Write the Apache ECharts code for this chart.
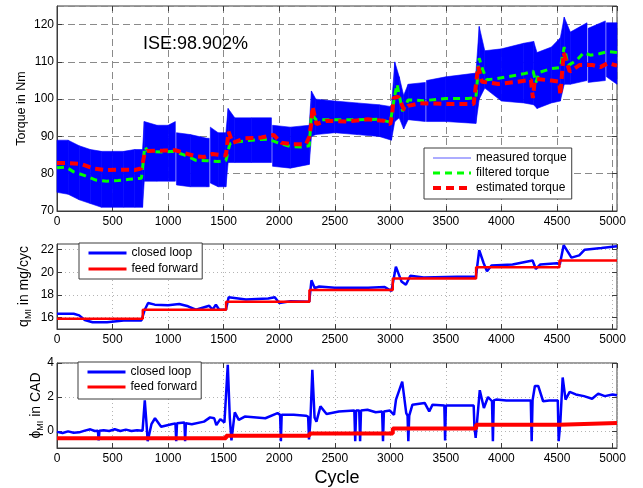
<!DOCTYPE html>
<html>
<head>
<meta charset="utf-8">
<script src="https://cdn.jsdelivr.net/npm/echarts@6/dist/echarts.min.js"></script>
<style>
  html, body { margin: 0; padding: 0; background: #fff; }
  #chart { width: 643px; height: 488px; }
</style>
</head>
<body>
<div id="chart"></div>
<script>
// ---- data ----
const xTickStep = 500
const xMax = 5040
const iseText = 'ISE:98.902%'

// measured torque: the noisy signal is drawn as its envelope (null = white gap)
const measCycle = [0, 100, 200, 300, 400, 500, 600, 700, 770, 785, 900, 1000, 1065, 1070, 1075, 1200, 1350, 1370, 1375, 1380,
  1450, 1520, 1540, 1600, 1750, 1930, 1935, 1940, 2100, 2270, 2290, 2330, 2500, 2700, 2900, 3010, 3040, 3080, 3120, 3160,
  3315, 3320, 3325, 3500, 3770, 3800, 3850, 4000, 4200, 4290, 4320, 4450, 4530, 4565, 4620, 4770, 4775, 4780, 4935, 4940, 4945,
  5040]
const measUpper = [89, 89, 87.5, 86.5, 86, 86, 86, 86.5, 86.5, 94, 93, 93, 94, null, 91, 90.5, 89.5, 89.5, null, 92.5,
  91, 91, 97.5, 95, 95, 95, null, 93, 92.5, 93, 102.2, 100, 99.5, 99, 98.5, 98, 110, 106, 101, 104,
  104.5, null, 105, 106, 107, 119.5, 113, 113.5, 115, 115.5, 112.5, 114, 116.5, 122, 118, 120.5, null, 119, 121, null, 120.5,
  120.5]
const measLower = [75, 74.5, 73, 72, 71, 71, 71, 71, 71, 78, 78, 78, 78, null, 77, 76.5, 76.5, 76.5, null, 77.5,
  76.5, 76.5, 83, 83, 83, 83, null, 82, 81.5, 82.5, 90, 90.5, 91, 90.5, 90, 89, 94, 95, 92, 94.5,
  94, null, 94, 94, 93.5, 100, 103, 99.5, 99, 98.5, 97.5, 99, 99.5, 104, 104, 105, null, 104.5, 105, null, 106,
  104]

const filtCycle = [0, 80, 150, 250, 350, 450, 550, 650, 760, 790, 820, 950, 1050, 1150, 1250, 1350, 1450, 1520, 1555, 1600,
  1750, 1900, 1990, 2100, 2200, 2270, 2290, 2330, 2500, 2700, 2900, 3000, 3040, 3060, 3110, 3160, 3300, 3500, 3700, 3770,
  3800, 3830, 3870, 3950, 4050, 4200, 4285, 4310, 4340, 4450, 4530, 4565, 4600, 4680, 4740, 4800, 4880, 4960, 5040]
const filtTorque = [81.6, 81.8, 80.5, 79.5, 78.3, 78, 78.2, 78.5, 78.8, 87.2, 86, 85.8, 86, 85, 83.6, 83.5, 83.3, 83.5, 88, 88.5,
  89, 89.3, 88.3, 87.3, 87.2, 87.5, 96, 94.5, 94.5, 94.5, 94.6, 93.8, 101, 104, 96.8, 99.8, 99.6, 100.2, 100.2, 100.4,
  111, 108, 105.2, 105.5, 106, 106.8, 107.5, 104.5, 107.2, 108.2, 108.5, 114, 109, 110.5, 112.5, 111.8, 112.2, 112.8, 112.5]

const estCycle = [0, 74, 220, 330, 440, 590, 700, 755, 770, 790, 810, 955, 1066, 1140, 1250, 1323, 1400, 1470, 1520, 1544,
  1580, 1690, 1840, 1950, 2020, 2130, 2240, 2270, 2290, 2300, 2335, 2425, 2610, 2795, 2940, 3000, 3015, 3030, 3070, 3125,
  3160, 3270, 3530, 3750, 3790, 3825, 3970, 4150, 4265, 4283, 4300, 4320, 4450, 4520, 4530, 4560, 4615, 4705, 4815, 4890,
  4960, 5040]
const estTorque = [82.9, 82.9, 82.6, 81.4, 81, 81.1, 81, 81.4, 82.7, 85.6, 86.1, 86.2, 86.3, 85.6, 84.7, 84.5, 85.3, 85, 84.9, 91.3,
  88.3, 89.5, 89.7, 90.4, 88.3, 87.9, 87.9, 89.9, 93.7, 98, 93.3, 94.2, 94, 94.6, 94.2, 93.3, 95.8, 100.3, 100.7, 97.1,
  98.2, 98.9, 98.7, 98.7, 108.8, 104.7, 104.1, 104.7, 105.2, 100.3, 105, 105.4, 105, 104.7, 101.1, 112.4, 107.4, 109.2, 109.2, 108.6,
  109.7, 109]

// q_MI
const qCycle = [0, 150, 200, 250, 320, 450, 600, 760, 790, 820, 880, 1000, 1100, 1180, 1250, 1370, 1400, 1430, 1460, 1520,
  1545, 1700, 1900, 1960, 2000, 2100, 2270, 2290, 2320, 2360, 2500, 2800, 2950, 3010, 3050, 3100, 3140, 3180, 3300, 3600,
  3770, 3800, 3840, 3870, 3910, 4100, 4280, 4310, 4350, 4500, 4525, 4560, 4630, 4700, 4750, 4900, 5040]
const qClosed = [16.35, 16.35, 16.2, 15.8, 15.6, 15.6, 15.75, 15.75, 16.7, 17.3, 17.15, 17.1, 17.2, 17, 16.7, 17.05, 16.7, 17.15, 16.7, 16.7,
  17.8, 17.6, 17.7, 17.8, 17.3, 17.45, 17.4, 19.3, 18.6, 18.75, 18.65, 18.65, 18.7, 18.35, 20.5, 19.2, 18.9, 19.7, 19.55, 19.6,
  19.6, 21.95, 20.8, 20.1, 20.6, 20.7, 21.05, 20.3, 20.7, 20.8, 20.7, 22.4, 21.3, 21.5, 22, 22.15, 22.3]
const stepCycle = [0, 772, 1522, 2272, 3022, 3772, 4522, 5040]
const qFeed = [15.9, 16.7, 17.4, 18.45, 19.45, 20.45, 21.05, 21.05]
const qTicks = [16, 18, 20, 22]

// phi_MI
const phiCycle = [0, 50, 100, 150, 200, 250, 300, 340, 368, 375, 382, 420, 470, 520, 570, 620, 670, 720, 770, 790,
  805, 816, 850, 882, 937, 1030, 1066, 1073, 1080, 1147, 1153, 1160, 1213, 1323, 1378, 1415, 1434, 1470, 1507, 1525,
  1537, 1555, 1570, 1600, 1636, 1690, 1875, 1985, 2008, 2015, 2022, 2040, 2130, 2240, 2260, 2268, 2280, 2298, 2318, 2335,
  2371, 2426, 2537, 2676, 2684, 2692, 2720, 2728, 2736, 2794, 2868, 2926, 2934, 2942, 2996, 3033, 3051, 3107, 3143, 3155,
  3162, 3170, 3199, 3309, 3350, 3380, 3486, 3493, 3500, 3600, 3750, 3757, 3768, 3805, 3842, 3879, 3915, 3923, 3931, 3952,
  4044, 4191, 4264, 4272, 4280, 4301, 4331, 4375, 4430, 4507, 4515, 4530, 4551, 4577, 4614, 4669, 4743, 4816, 4871, 4930,
  5000, 5040]
const phiClosed = [-0.05, -0.12, -0.02, -0.1, -0.08, 0.02, 0.1, 0, 0.02, -0.55, 0.02, 0.05, 0, 0.1, 0, 0.08, 0, 0.05, 0.02, 1.8,
  0.5, -0.6, 0.4, 0.75, 0.25, 0.4, 0.45, -0.6, 0.45, 0.5, -0.6, 0.45, 0.4, 0.55, 0.8, 0.75, 0.35, 0.7, 0.5, 0.6,
  3.9, 0.8, -0.55, 1.1, 0.65, 0.85, 0.75, 1.05, 0.95, -0.6, 0.95, 1, 0.95, 0.9, 0.85, -0.5, 0.5, 3.6, 0.8, 0.55,
  1.45, 1, 1.15, 1.2, -0.6, 1.2, 1.2, -0.6, 1.2, 1.25, 1.1, 1.15, -0.6, 1.15, 1.2, 0.95, 1.85, 2.9, 1.05, 0.9,
  -0.6, 0.9, 1.55, 1.65, 1.15, 1.55, 1.5, -0.55, 1.5, 1.5, 1.5, 0.25, -0.4, 2.4, 1.35, 2, 1.75, -0.6, 1.8, 1.85,
  1.8, 1.8, 1.8, -0.6, 1.8, 2.65, 2.65, 1.75, 1.8, 1.8, -0.6, 0.5, 3.15, 1.85, 2.3, 2.15, 2.05, 1.9, 2.2, 2.05,
  2.15, 2.1]
const phiFeed = [-0.43, -0.42, -0.28, -0.15, 0.14, 0.37, 0.47, 0.47]
const phiTicks = [0, 2, 4]

// ---- chart ----
const FONT = '"Liberation Sans", Arial, Helvetica, sans-serif'
const AXIS = '#3c3c3c'
const dashGrid = { color: '#8a8a8a', width: 1, type: [7, 4] }
const dotGrid = { color: '#b4b4b4', width: 1, type: [1, 3] }
const BLUE = '#0000ff'
const RED = '#ff0000'
const GREEN = '#00ff00'

const zip = (xs, ys) => xs.map((x, i) => [x, ys[i] == null ? '-' : ys[i]])
const bandData = measCycle.map((c, i) => [c, measLower[i] == null ? '-' : measLower[i], measUpper[i] == null ? '-' : measUpper[i]])

// one quad per envelope segment, placed through the axis scales
const renderBand = (params, api) => {
  const i = params.dataIndex
  if (i >= measCycle.length - 1) return null
  if (measUpper[i] == null || measUpper[i + 1] == null) return null
  const pts = [
    api.coord([measCycle[i], measLower[i]]),
    api.coord([measCycle[i], measUpper[i]]),
    api.coord([measCycle[i + 1], measUpper[i + 1]]),
    api.coord([measCycle[i + 1], measLower[i + 1]])
  ]
  return {
    type: 'polygon',
    shape: { points: pts },
    style: { fill: BLUE, stroke: BLUE, lineWidth: 0.6 }
  }
}

const xAxisFor = (gridIndex, split) => ({
  type: 'value',
  gridIndex,
  min: 0,
  max: xMax,
  interval: xTickStep,
  axisLine: { onZero: false, lineStyle: { color: AXIS } },
  axisTick: { inside: true, length: 5, lineStyle: { color: AXIS } },
  axisLabel: { color: '#000', fontSize: 12, fontFamily: FONT, margin: 5, showMaxLabel: false, formatter: v => String(v) },
  splitLine: { show: true, lineStyle: split }
})

// mirrored inside ticks on the top edge (matlab box)
const xMirror = gridIndex => ({
  type: 'value', gridIndex, position: 'top', min: 0, max: xMax, interval: xTickStep,
  axisLine: { show: false, onZero: false },
  axisTick: { show: true, inside: true, length: 5, lineStyle: { color: AXIS } },
  axisLabel: { show: false },
  splitLine: { show: false }
})

const yMirror = (gridIndex, min, max, extra) => Object.assign({
  type: 'value', gridIndex, position: 'right', min, max,
  axisLine: { show: false, onZero: false },
  axisTick: { show: true, inside: true, length: 5, lineStyle: { color: AXIS } },
  axisLabel: { show: false },
  splitLine: { show: false }
}, extra)

const yBase = {
  type: 'value',
  nameLocation: 'middle',
  nameMoveOverlap: false,
  axisLine: { show: true, onZero: false, lineStyle: { color: AXIS } },
  axisTick: { show: true, inside: true, length: 5, lineStyle: { color: AXIS } }
}

const legendBase = {
  orient: 'vertical',
  itemWidth: 38,
  itemHeight: 14,
  borderColor: AXIS,
  borderWidth: 1,
  borderRadius: 0,
  backgroundColor: '#fff',
  itemStyle: { opacity: 0 },
  textStyle: { fontSize: 12, color: '#000', fontFamily: FONT },
  selectedMode: false
}

const subRich = {
  a: { fontSize: 14, color: '#000', fontFamily: FONT, lineHeight: 18 },
  b: { fontSize: 9, color: '#000', fontFamily: FONT, verticalAlign: 'bottom', lineHeight: 18 }
}

const option = {
  animation: false,
  backgroundColor: '#fff',
  textStyle: { fontFamily: FONT },
  grid: [
    { left: 57, top: 6, width: 560, height: 205 },
    { left: 57, top: 244, width: 560, height: 85 },
    { left: 57, top: 363, width: 560, height: 85 }
  ].map(g => Object.assign({ show: true, borderColor: AXIS, borderWidth: 1, backgroundColor: 'transparent' }, g)),
  xAxis: [
    xAxisFor(0, dashGrid),
    xAxisFor(1, dotGrid),
    Object.assign(xAxisFor(2, dotGrid), {
      name: 'Cycle',
      nameLocation: 'middle',
      nameGap: 21,
      nameMoveOverlap: false,
      nameTextStyle: { fontSize: 18, color: '#000', fontFamily: FONT }
    }),
    xMirror(0), xMirror(1), xMirror(2)
  ],
  yAxis: [
    Object.assign({}, yBase, {
      gridIndex: 0, min: 70, max: 125, interval: 10,
      name: 'Torque in Nm', nameGap: 29,
      nameTextStyle: { fontSize: 12.5, color: '#000', fontFamily: FONT },
      axisLabel: { color: '#000', fontSize: 12, fontFamily: FONT, margin: 3, showMaxLabel: false },
      splitLine: { show: true, lineStyle: dashGrid }
    }),
    Object.assign({}, yBase, {
      gridIndex: 1, min: 15, max: 22.5,
      name: '{a|q}{b|MI}{a| in mg/cyc}', nameGap: 24,
      nameTextStyle: { rich: subRich },
      axisTick: { show: true, inside: true, length: 5, customValues: qTicks, lineStyle: { color: AXIS } },
      axisLabel: { color: '#000', fontSize: 12, fontFamily: FONT, margin: 3, customValues: qTicks },
      splitLine: { show: true, lineStyle: dotGrid }
    }),
    Object.assign({}, yBase, {
      gridIndex: 2, min: -1, max: 4,
      name: '{a|\u03d5}{b|MI}{a| in CAD}', nameGap: 12,
      nameTextStyle: { rich: subRich },
      axisTick: { show: true, inside: true, length: 5, customValues: phiTicks, lineStyle: { color: AXIS } },
      axisLabel: { color: '#000', fontSize: 12, fontFamily: FONT, margin: 3, customValues: phiTicks },
      splitLine: { show: true, lineStyle: dotGrid }
    }),
    yMirror(0, 70, 125, { interval: 10 }),
    yMirror(1, 15, 22.5, { axisTick: { show: true, inside: true, length: 5, customValues: qTicks, lineStyle: { color: AXIS } } }),
    yMirror(2, -1, 4, { axisTick: { show: true, inside: true, length: 5, customValues: phiTicks, lineStyle: { color: AXIS } } })
  ],
  legend: [
    Object.assign({}, legendBase, {
      left: 424, top: 148, itemGap: 3, padding: [4, 5, 5, 7],
      data: [
        { name: 'measured torque', lineStyle: { color: '#5a5aff', width: 1, type: 'solid' } },
        { name: 'filtered torque', lineStyle: { color: GREEN, width: 3, type: [7, 5] } },
        { name: 'estimated torque', lineStyle: { color: RED, width: 4, type: [8, 5] } }
      ]
    }),
    Object.assign({}, legendBase, {
      left: 79, top: 243, itemGap: 4, padding: [4, 4, 4, 8],
      data: [
        { name: 'closed loop', lineStyle: { color: BLUE, width: 3 } },
        { name: 'feed forward', lineStyle: { color: RED, width: 3 } }
      ]
    }),
    Object.assign({}, legendBase, {
      left: 78, top: 362, itemGap: 3, padding: [4, 4, 6, 8],
      data: [
        { name: 'closed loop', lineStyle: { color: BLUE, width: 3 } },
        { name: 'feed forward', lineStyle: { color: RED, width: 3 } }
      ]
    })
  ],
  graphic: [{
    type: 'text',
    left: 143,
    top: 35,
    z: 100,
    style: { text: iseText, fontSize: 18, fill: '#000', fontFamily: FONT }
  }],
  series: [
    {
      type: 'custom', xAxisIndex: 0, yAxisIndex: 0,
      data: bandData, encode: { x: 0, y: [1, 2] },
      renderItem: renderBand, silent: true, z: 1
    },
    {
      name: 'measured torque', type: 'line', xAxisIndex: 0, yAxisIndex: 0,
      data: [], symbol: 'none', lineStyle: { color: BLUE, width: 1 }
    },
    {
      name: 'filtered torque', type: 'line', xAxisIndex: 0, yAxisIndex: 0,
      data: zip(filtCycle, filtTorque), symbol: 'none', z: 3,
      lineStyle: { color: GREEN, width: 3, type: [7, 5] }
    },
    {
      name: 'estimated torque', type: 'line', xAxisIndex: 0, yAxisIndex: 0,
      data: zip(estCycle, estTorque), symbol: 'none', z: 4,
      lineStyle: { color: RED, width: 4, type: [8, 5] }
    },
    {
      name: 'closed loop', type: 'line', xAxisIndex: 1, yAxisIndex: 1,
      data: zip(qCycle, qClosed), symbol: 'none',
      lineStyle: { color: BLUE, width: 2.5 }
    },
    {
      name: 'feed forward', type: 'line', xAxisIndex: 1, yAxisIndex: 1,
      data: zip(stepCycle, qFeed), symbol: 'none', step: 'end',
      lineStyle: { color: RED, width: 2.5 }
    },
    {
      name: 'closed loop', type: 'line', xAxisIndex: 2, yAxisIndex: 2,
      data: zip(phiCycle, phiClosed), symbol: 'none',
      lineStyle: { color: BLUE, width: 2.5 }
    },
    {
      name: 'feed forward', type: 'line', xAxisIndex: 2, yAxisIndex: 2,
      data: zip(stepCycle, phiFeed), symbol: 'none', step: 'end',
      lineStyle: { color: RED, width: 4 }
    }
  ]
}

const chart = echarts.init(document.getElementById('chart'))
chart.setOption(option)
window.addEventListener('resize', () => chart.resize())
</script>
</body>
</html>
